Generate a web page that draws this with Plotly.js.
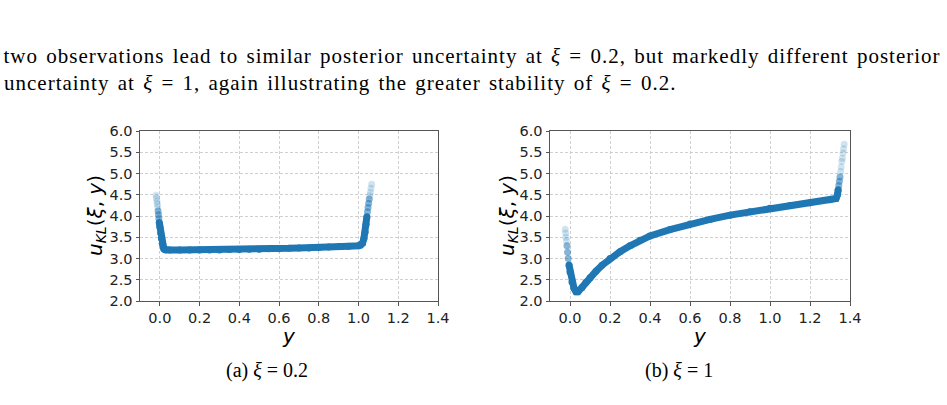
<!DOCTYPE html>
<html>
<head>
<meta charset="utf-8">
<script src="https://cdn.plot.ly/plotly-3.0.1.min.js"></script>
<style>
  html, body { margin: 0; padding: 0; background: #fff; }
  #fig { width: 947px; height: 405px; }
  /* body paragraph lines are set wider, like the typeset page */
  #fig .annotation[data-index="0"] text,
  #fig .annotation[data-index="1"] text { letter-spacing: 1.0px; word-spacing: 2px; }
</style>
</head>
<body>
<div id="fig"></div>
<script>
// ---- xi = 0.2 : u_KL(xi, y) against observation y ----
// sparse points on the lower tail (faint)
const a_faintY  = [-0.019, -0.017, -0.015, -0.013, -0.011, 1.057, 1.060, 1.063, 1.066];
const a_faintU  = [4.49, 4.42, 4.35, 4.28, 4.21, 4.48, 4.56, 4.65, 4.75];
// intermediate density
const a_midY    = [-0.009, -0.007, -0.005, 1.045, 1.048, 1.051, 1.054];
const a_midU    = [4.12, 4.03, 3.94, 4.10, 4.20, 4.30, 4.40];
// dense band
const a_coreY   = [-0.003, 0.0, 0.004, 0.008, 0.012, 0.016, 0.02, 0.025, 0.03, 0.05, 0.1, 0.15, 0.2, 0.25,
                   0.3, 0.35, 0.4, 0.45, 0.5, 0.55, 0.6, 0.65, 0.7, 0.75, 0.8, 0.85, 0.9, 0.95, 1.0, 1.01,
                   1.02, 1.027, 1.033, 1.038, 1.042];
const a_coreU   = [3.85, 3.74, 3.60, 3.47, 3.36, 3.28, 3.23, 3.21, 3.20, 3.20, 3.20, 3.20, 3.20, 3.20,
                   3.20, 3.21, 3.21, 3.22, 3.22, 3.23, 3.23, 3.24, 3.25, 3.25, 3.26, 3.27, 3.28, 3.29, 3.30, 3.31,
                   3.36, 3.47, 3.62, 3.80, 3.98];

// ---- xi = 1 ----
const b_faintY  = [-0.024, -0.022, -0.020, -0.018, 1.353, 1.356, 1.359, 1.362, 1.365, 1.368, 1.371];
const b_faintU  = [3.69, 3.60, 3.50, 3.42, 5.05, 5.15, 5.28, 5.36, 5.48, 5.58, 5.69];
const b_midY    = [-0.015, -0.012, -0.009, 1.344, 1.347, 1.350];
const b_midU    = [3.30, 3.15, 3.00, 4.72, 4.82, 4.92];
const b_coreY   = [-0.005, 0.0, 0.01, 0.02, 0.03, 0.04, 0.06, 0.08, 0.1, 0.13, 0.16, 0.2, 0.25, 0.3, 0.35,
                   0.4, 0.5, 0.6, 0.7, 0.8, 0.9, 1.0, 1.1, 1.2, 1.3, 1.33, 1.337, 1.341];
const b_coreU   = [2.85, 2.68, 2.45, 2.30, 2.22, 2.22, 2.32, 2.44, 2.55, 2.70, 2.84, 3.00, 3.16, 3.30, 3.43,
                   3.53, 3.68, 3.81, 3.92, 4.02, 4.10, 4.18, 4.25, 4.31, 4.38, 4.41, 4.50, 4.62];

// axis ticks and text
const xTicks = [0.0, 0.2, 0.4, 0.6, 0.8, 1.0, 1.2, 1.4];
const yTicks = [2.0, 2.5, 3.0, 3.5, 4.0, 4.5, 5.0, 5.5, 6.0];
const bodyLines = [
  "two observations lead to similar posterior uncertainty at <i>ξ</i> = 0.2, but markedly different posterior",
  "uncertainty at <i>ξ</i> = 1, again illustrating the greater stability of <i>ξ</i> = 0.2."
];
const captions = ["(a) <i>ξ</i> = 0.2", "(b) <i>ξ</i> = 1"];
const yLabel = "<i>u</i><sub><i>KL</i></sub>(<i>ξ</i>, <i>y</i>)";
const xLabel = "<i>y</i>";

const BLUE = '#1f77b4';

function tracesFor(fy, fu, my, mu, cy, cu, xa, ya) {
  return [
    { x: fy, y: fu, xaxis: xa, yaxis: ya, mode: 'markers', type: 'scatter', hoverinfo: 'skip',
      marker: { color: 'rgba(31,119,180,0.2)', size: 7, line: { width: 0 } } },
    { x: my, y: mu, xaxis: xa, yaxis: ya, mode: 'markers', type: 'scatter', hoverinfo: 'skip',
      marker: { color: 'rgba(31,119,180,0.55)', size: 7, line: { width: 0 } } },
    { x: cy, y: cu, xaxis: xa, yaxis: ya, mode: 'lines+markers', type: 'scatter', hoverinfo: 'skip',
      line: { color: BLUE, width: 7 },
      marker: { color: BLUE, size: 7, line: { width: 0 } } }
  ];
}

const data = [
  ...tracesFor(a_faintY, a_faintU, a_midY, a_midU, a_coreY, a_coreU, 'x', 'y'),
  ...tracesFor(b_faintY, b_faintU, b_midY, b_midU, b_coreY, b_coreU, 'x2', 'y2')
];

const tickFont = { family: 'DejaVu Sans', size: 14.5, color: '#222' };
function xAxis(dom, anchor) {
  return {
    domain: dom, anchor: anchor, range: [-0.1, 1.4],
    tickvals: xTicks, ticktext: xTicks.map(v => v.toFixed(1)),
    showgrid: true, gridcolor: '#c4c4c4', gridwidth: 0.8, griddash: '3px,2px',
    zeroline: false, showline: true, mirror: true, linecolor: '#555', linewidth: 1,
    ticks: 'outside', ticklen: 3.5, tickcolor: '#555', tickfont: tickFont
  };
}
function yAxis(dom, anchor) {
  return {
    domain: dom, anchor: anchor, range: [2, 6],
    tickvals: yTicks, ticktext: yTicks.map(v => v.toFixed(1)),
    showgrid: true, gridcolor: '#c4c4c4', gridwidth: 0.8, griddash: '3px,2px',
    zeroline: false, showline: true, mirror: true, linecolor: '#555', linewidth: 1,
    ticks: 'outside', ticklen: 3.5, tickcolor: '#555', tickfont: tickFont
  };
}

const W = 947, H = 405;
const px = v => v / W;
const py = v => (H - v) / H;

const serif = { family: 'Liberation Serif, DejaVu Serif, serif', size: 21, color: '#000' };
const capFont = { family: 'Liberation Serif, DejaVu Serif, serif', size: 20, color: '#000' };
const labelFont = { family: 'DejaVu Sans', size: 20, color: '#000' };

const annotations = [
  { text: bodyLines[0], x: px(472), y: py(56), xanchor: 'center', yanchor: 'middle', font: serif },
  { text: bodyLines[1], x: px(340), y: py(83), xanchor: 'center', yanchor: 'middle', font: serif },
  { text: captions[0], x: px(267), y: py(370), xanchor: 'center', yanchor: 'middle', font: capFont },
  { text: captions[1], x: px(679), y: py(370), xanchor: 'center', yanchor: 'middle', font: capFont },
  { text: yLabel, x: px(96), y: py(216), xanchor: 'center', yanchor: 'middle', textangle: -90, font: labelFont },
  { text: yLabel, x: px(508), y: py(216), xanchor: 'center', yanchor: 'middle', textangle: -90, font: labelFont },
  { text: xLabel, x: px(289), y: py(336), xanchor: 'center', yanchor: 'middle', font: labelFont },
  { text: xLabel, x: px(700), y: py(336), xanchor: 'center', yanchor: 'middle', font: labelFont }
].map(a => Object.assign({ xref: 'paper', yref: 'paper', showarrow: false }, a));

const layout = {
  width: W, height: H,
  margin: { l: 0, r: 0, t: 0, b: 0 },
  paper_bgcolor: '#fff', plot_bgcolor: '#fff',
  showlegend: false,
  xaxis: xAxis([px(140), px(438)], 'y'),
  yaxis: yAxis([py(301), py(131)], 'x'),
  xaxis2: xAxis([px(550), px(850)], 'y2'),
  yaxis2: yAxis([py(301), py(131)], 'x2'),
  annotations: annotations
};

Plotly.newPlot('fig', data, layout, { staticPlot: true, displayModeBar: false });
</script>
</body>
</html>
